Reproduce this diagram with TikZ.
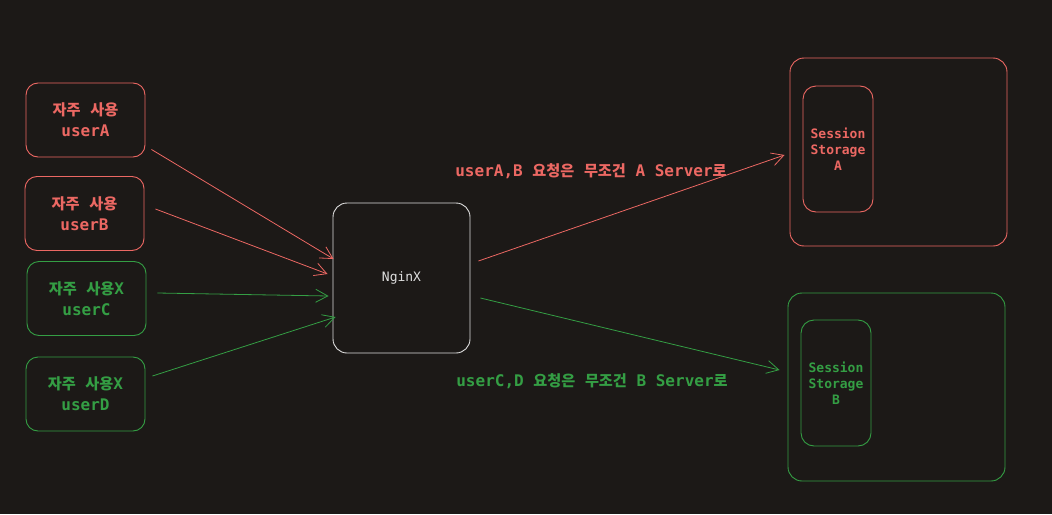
\documentclass[tikz,border=0pt]{standalone}
\usepackage{fontspec}
\setmonofont{DejaVu Sans Mono}
\newfontfamily\kr[Scale=0.95]{Noto Sans CJK KR}
\usetikzlibrary{arrows.meta}

\definecolor{bg}{RGB}{28,25,23}
\definecolor{myred}{RGB}{236,104,99}
\definecolor{mygreen}{RGB}{52,158,68}
\definecolor{mygray}{RGB}{222,222,222}

\tikzset{
  userbox/.style={draw, rounded corners=12pt, minimum width=119pt, minimum height=74pt, line width=0.9pt, align=center, font=\ttfamily\bfseries\fontsize{16}{21}\selectfont},
  storebox/.style={draw, rounded corners=13pt, minimum width=70pt, minimum height=126pt, line width=0.9pt, align=center, font=\ttfamily\bfseries\fontsize{13}{16}\selectfont},
  serverbox/.style={draw, rounded corners=14pt, minimum width=217pt, minimum height=188pt, line width=0.9pt},
  link/.style={line width=0.8pt, -{Straight Barb[length=12pt,width=13pt]}},
  note/.style={font=\ttfamily\bfseries\fontsize{16}{20}\selectfont}
}

\begin{document}
\begin{tikzpicture}[x=1pt,y=-1pt]
\fill[bg] (0,0) rectangle (1052,514);
\useasboundingbox (0,0) rectangle (1052,514);

\node[userbox,myred] at (85.5,120) (uA) {{\kr 자주} {\kr 사용}\\userA};
\node[userbox,myred] at (84.5,213.5) (uB) {{\kr 자주} {\kr 사용}\\userB};
\node[userbox,mygreen] at (86.5,298.5) (uC) {{\kr 자주} {\kr 사용}X\\userC};
\node[userbox,mygreen] at (85.5,394) (uD) {{\kr 자주} {\kr 사용}X\\userD};

\node[draw=mygray, text=mygray, rounded corners=14pt, minimum width=137pt, minimum height=150pt, line width=0.9pt, font=\ttfamily\fontsize{13}{16}\selectfont] at (401.5,278) (nginx) {NginX};

\node[serverbox,myred] at (898.5,152) (srvA) {};
\node[storebox,myred] at (838,149) (ssA) {Session\\Storage\\A};
\node[serverbox,mygreen] at (896.5,387) (srvB) {};
\node[storebox,mygreen] at (836,383) (ssB) {Session\\Storage\\B};

\draw[link,myred] ([shift={(6,-8)}]uA.south east) -- ([shift={(1,-19)}]nginx.west);
\draw[link,myred] ([shift={(11,-4.5)}]uB.east) -- ([shift={(-5,-4)}]nginx.west);
\draw[link,mygreen] ([shift={(11,-5.5)}]uC.east) -- ([shift={(-4,18)}]nginx.west);
\draw[link,mygreen] ([shift={(7,-18)}]uD.east) -- ([shift={(3,39)}]nginx.west);

\draw[link,myred] ([shift={(8,-17)}]nginx.east) -- ([shift={(-5,3)}]srvA.west);
\draw[link,mygreen] ([shift={(10,20)}]nginx.east) -- ([shift={(-8,-17)}]srvB.west);

\node[note,myred] at (591,171) (noteA) {userA,B {\kr 요청은} {\kr 무조건} A Server{\kr 로}};
\node[note,mygreen] at (592,381) (noteB) {userC,D {\kr 요청은} {\kr 무조건} B Server{\kr 로}};
\end{tikzpicture}
\end{document}
